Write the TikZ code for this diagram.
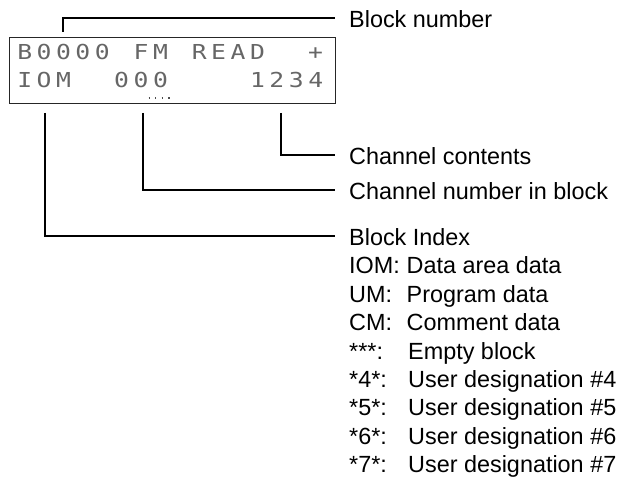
\documentclass[tikz,border=0pt]{standalone}
\usepackage{fontspec}
\setmainfont{Liberation Sans}
\newfontfamily\lcdfont[FakeStretch=1.2]{DejaVu Sans Mono}
\newcommand\lcdc[1]{\makebox[19.4pt]{#1}}
\begin{document}
\begin{tikzpicture}[x=1pt,y=-1pt,
  lead/.style={line width=2pt},
  lbl/.style={anchor=west, inner xsep=14pt, inner ysep=0pt,
    font=\fontsize{23.4}{28}\selectfont, text height=19pt, text depth=0pt},
  item/.style={anchor=base west, inner sep=0pt, font=\fontsize{23.4}{28}\selectfont},
  lcdline/.style={anchor=west, inner sep=0pt, text=black!60,
    font=\lcdfont\fontsize{20.6}{21}\selectfont, text height=15pt, text depth=0pt},
  lcdbox/.style={draw=black!85, line width=1.6pt, anchor=north west, inner sep=0pt}
]
\useasboundingbox (0,0) rectangle (620,478);
% LCD display
\node[lcdbox, minimum width=326pt, minimum height=66pt] (lcd) at (8.8,36.8) {};
\node[lcdline] (row1) at (14.8,52) {\lcdc{B}\lcdc{0}\lcdc{0}\lcdc{0}\lcdc{0}\lcdc{}\lcdc{F}\lcdc{M}\lcdc{}\lcdc{R}\lcdc{E}\lcdc{A}\lcdc{D}\lcdc{}\lcdc{}\lcdc{+}};
\node[lcdline] (row2) at (14.8,80) {\lcdc{I}\lcdc{O}\lcdc{M}\lcdc{}\lcdc{}\lcdc{0}\lcdc{0}\lcdc{0}\lcdc{}\lcdc{}\lcdc{}\lcdc{}\lcdc{1}\lcdc{2}\lcdc{3}\lcdc{4}};
\draw[black!70, line width=1.3pt, dash pattern=on 1.3pt off 5.3pt] (148.5,98) -- (170,98);
% leader start points
\coordinate (bnS) at (63,32);
\coordinate (ccS) at (281,113);
\coordinate (cnS) at (143,113);
\coordinate (biS) at (45,113);
% labels
\node[lbl] (lbn) at (335,18) {Block number};
\node[lbl] (lcc) at (335,155) {Channel contents};
\node[lbl] (lcn) at (335,190) {Channel number in block};
\node[lbl] (lbi) at (335,236) {Block Index};
\draw[lead] (bnS) |- (lbn.west);
\draw[lead] (ccS) |- (lcc.west);
\draw[lead] (cnS) |- (lcn.west);
\draw[lead] (biS) |- (lbi.west);
% block index list
\foreach \k/\kw/\w/\d in {1/IOM:/57.5/Data area data, 2/UM:/57.5/Program data, 3/CM:/57.5/Comment data,
  4/***:/59/Empty block, 5/*4*:/59/User designation \#4, 6/*5*:/59/User designation \#5,
  7/*6*:/59/User designation \#6, 8/*7*:/59/User designation \#7}
  \node[item] (it\k) at (349,245.5+28.4*\k) {\makebox[\w pt][l]{\kw}\d};
\end{tikzpicture}
\end{document}
